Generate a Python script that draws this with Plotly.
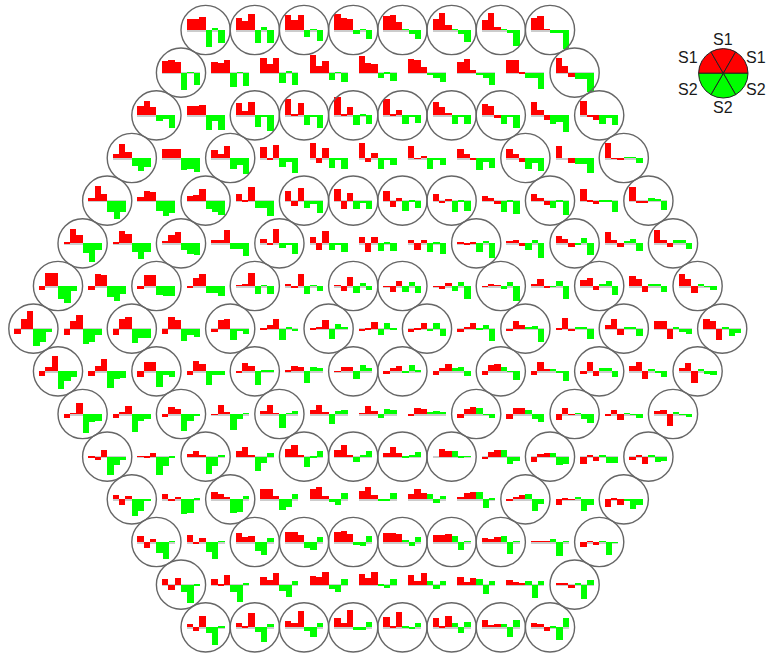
import plotly.graph_objects as go

# Each list: one hexagon row. Each cell: S1,S1,S1,S2,S2,S2 (height, up = positive)
row_00 = [[11,11,13,-17,2,-13],[12,9,16,-13,3,-13],[15,10,15,-7,1,-11],[16,12,11,-4,0.5,-9],[14,15,8,0.5,-4,-9],[11,17,5,0.3,-4,-12],[10,17,3,0.3,-3,-16],[12,14,0.5,-3,-3,-19]]
row_01 = [[12,13,11,-17,0.5,-12],[11,10,13,-14,0.5,-13],[15,9,15,-10,0.7,-12],[18,7,12,-7,0.5,-9],[17,10,9,-5,-1,-8],[14,13,6,-2,-5,-9],[11,14,3,-2.5,-5,-12],[13,13,-1,-5,-5,-16],[15,7,-4.5,-6,-6,-19]]
row_02 = [[9,14,8,-6,-4,-13],[9.3,9.3,10,-14.7,-5.7,-14.7],[12,4,13,-12,-2,-16],[16,0.5,12,-10,-1,-13],[18,1.5,8,-10,0.5,-9],[16,1,5,-9,-1,-8],[13,8,2.5,-9,-1.5,-9],[11,9,-2.5,-9,-2,-13],[13,5,-5,-9,-7,-17],[14,-1,-5,-9,-3,-10]]
row_03 = [[4,14,6,-8,-13,-9],[9,9,9,-12,-11,-14],[8,4,12,-11,-7,-16],[11,-2,13,-9,-4,-15],[15,-5,10,-10,-2,-11],[15,-4,5,-11,-2,-7],[12,-1,2,-11,-2,-7],[9,4,-2,-12,-4,-10],[9,4,-4,-11,-5,-13],[12,0,-5,-6,-6,-15],[15,-1,-2,1,1,-5]]
row_04 = [[3,15,7,-11,-18,-11],[4,10,9,-10,-15,-12],[5,6,12,-8,-11,-14],[7,-1,14,-7,-7,-15],[10,-5,13,-7,-3,-12],[12,-8,8,-8,-2,-8],[10,-6,3,-10,-1,-7],[7,-2,1,-11,-1,-10],[5,3,-3,-11,-1,-13],[7,3,-4,-7,-1,-14],[12,-1,-3,-1,-1,-11],[14,-2,-2,3,1,-9]]
row_05 = [[0.7,14,8,-10,-19,-7],[1,12,9,-9,-16,-9],[2,8,11,-7,-11,-12],[3.5,3.5,13,-6,-6,-13],[4,-2,14,-5,-1.5,-11],[6,-7,12,-7,-1,-9],[6,-9,6,-8,0.7,-8],[3,-7,3,-9,1,-11],[1.5,-1.5,0.5,-9,2.5,-15],[2,3,-3,-7,3.5,-15],[7,4,-4,-1.5,5,-12],[11,3,-4,2,4,-8],[13,3,-4,3,3,-6]]
row_06 = [[-4,13,13,-13,-17,-5],[-4,12,11,-11,-15,-8],[-3,11,11,-9,-10,-10],[-2,8,12,-7,-7,-10],[1,2,13,-8,1,-8],[2,-1.5,12,-8,0.5,-5],[1,-5,9,-7,3,-4],[-0.3,-6,5,-6,4,-7],[-0.5,-3,3,-5,4,-13],[-0.5,2,1,-3,4,-15],[2,7,-2,-0.5,5,-13],[6,8,-4,2,5,-9],[10,7,-6,2,2,-6],[12,7,-7,2,-0.5,-4]]
row_07 = [[-5,10,18,-17,-13,-3],[-6,8,14,-15,-13,-6],[-6,10,12,-14,-9,-9],[-5,12,9,-12,-6,-8],[-3,9,10,-11,-2,-5],[-1,4,10,-11,2,-2],[-1,0.7,9,-10,5,2],[-2,-0.5,7,-6,6,-0.5],[-3,-0.5,6,-2,6,-7],[-3,2,6,-0.5,4,-12],[-2,8,4,2,3,-13],[-1,11,-2,2,2,-10],[4,10,-6,2,1,-7],[8,8,-10,1,-3,-5],[10,8,-11,1,-7,-4]]
row_08 = [[-5,4,15,-18,-10,-6],[-5,5,12,-17,-8,-7],[-6,9,9,-16,-4,-6],[-4,10,7,-14,-4,-4],[-1,8,5,-14,0.5,0.5],[1.5,5,4,-12,4,3],[-0.5,4,4,-8,6,3],[-2.5,3,5,-2,6,0.5],[-4,3,7,3,4,-5],[-4,6,7,4,-0.5,-9],[-4,9,2,2,-1,-10],[-3,9,-5,3,3,-6],[5,9,-8,2,-1,-6],[3,8,-12,2,-3,-4]]
row_09 = [[-4,0.7,11,-19,-8,-7],[-4,2,8,-18,-7,-5],[-3,7,5,-17,-7,-2],[-0.3,9,2,-16,-5,1],[3,9,1,-14,0.3,3],[4,9,2,-10,3,4],[1,8,3,-4,5,4],[-2,6,5,2,3,2],[-4,5,7,6,-0.5,-4],[-5,6,6,4,-5,-8],[-6,6,-0.5,1,-5,-9],[-2,4,-6,1,-1,-4],[3,4,-12,2,-1,-3]]
row_10 = [[-0.7,-3,7,-18,-8,-3],[0.5,-0.5,4,-18,-9,-0.7],[3,6,2,-17,-9,2],[6,10,0.7,-14,-6,4],[8,12,2,-10,-1.5,6],[7,12,2,-5,2,6],[4,10,4,-0.7,2,5],[0,8,6,6,-1.5,0.5],[-2,5,7,7,-7,-4],[-5,3,4,4,-8,-7],[-7,1,-4,1,-6,-6],[-3,1,-7,1,-5,-4]]
row_11 = [[4,-6,3,-17,-12,-2],[5,-2,2,-15,-14,1],[7,5,2,-14,-13,3],[10,10,3,-11,-8,5],[10,12,3,-3,-6,6],[8,12,4,-1,-1,6],[5,10,6,5,-4,3],[2,6,7,7,-9,0.5],[-1,2,4,5,-12,-5],[-6,0.5,-0.5,2,-12,-6],[-8,0.5,-6,-1,-10,-6]]
row_12 = [[6,-6,3,-11,-17,0.3],[7,-2,4,-10,-17,1],[9,5,6,-9,-13,4],[10,10,7,-6,-8,5],[10,11,8,-3,-4,6],[9,9,8,2,-4,5],[7,7,8,6,-8,1],[4,3,5,6,-12,0.3],[0.5,1,1,3,-14,0.5],[-5,0.3,-3,1,-13,-0.7]]
row_13 = [[6,-5,7,-7,-18,-0.5],[6,-1,10,-7,-17,2],[8,5,12,-6,-12,4],[9,8,13,-4,-7,6],[11,7,13,-1,-3,6],[10,4,12,4,-4,4],[8,3,7,6,-9,4],[5,3,1,4,-13,4],[0.7,2,-3,2,-14,5]]
row_14 = [[3,-4,11,-6,-18,1],[4,0.5,14,-5,-15,3],[6,4,16,-4,-10,4],[9,4,17,-3,-3,5],[10,1,15,1,-2,4],[9,0.5,11,4,-6,5],[7,2,3,3,-10,7],[4,3,-4,1,-13,9]]

rows = [row_00,row_01,row_02,row_03,row_04,row_05,row_06,row_07,row_08,row_09,row_10,row_11,row_12,row_13,row_14]

# Which cells of each row wear a ring
ring_rows = [
    [0,1,2,3,4,5,6,7],
    [0,8],
    [0,2,3,4,5,6,7,9],
    [0,2,8,10],
    [0,2,4,5,6,7,9,11],
    [0,2,4,8,10,12],
    [0,2,4,6,7,9,11,13],
    [0,2,4,6,8,10,12,14],
    [0,2,4,6,7,9,11,13],
    [0,2,4,8,10,12],
    [0,2,4,5,6,7,9,11],
    [0,2,8,10],
    [0,2,3,4,5,6,7,9],
    [0,8],
    [0,1,2,3,4,5,6,7],
]

key_labels = ["S1","S1","S1","S2","S2","S2"]
key_shares = [1,1,1,1,1,1]

W, H = 766, 654
CX, Y0, DX, DY = 377.8, 30.0, 49.2, 42.667
BAR = 6.33
RED, GREEN = "#ff0000", "#00ff00"

cx, cy = [], []
bx1, by1, bb1, bx2, by2, bb2 = [], [], [], [], [], []
rx, ry = [], []
for r, row in enumerate(rows):
    y = Y0 + r * DY
    n = len(row)
    for c, vals in enumerate(row):
        x = CX + (c - (n - 1) / 2) * DX
        cx.append(x); cy.append(y)
        if c in ring_rows[r]:
            rx.append(x); ry.append(y)
        for i, v in enumerate(vals):
            px = x + (i - 2.5) * BAR
            if i < 3:
                bx1.append(px); by1.append(-v); bb1.append(y)
            else:
                bx2.append(px); by2.append(-v); bb2.append(y)

fig = go.Figure()
fig.add_trace(go.Bar(x=cx, y=[1.3]*len(cx), base=cy, width=6*BAR, marker=dict(color="#cccccc", line=dict(width=0)), showlegend=False, hoverinfo="skip"))
fig.add_trace(go.Bar(x=bx1, y=by1, base=bb1, width=BAR, name="S1", marker=dict(color=RED, line=dict(width=0)), showlegend=False))
fig.add_trace(go.Bar(x=bx2, y=by2, base=bb2, width=BAR, name="S2", marker=dict(color=GREEN, line=dict(width=0)), showlegend=False))
fig.add_trace(go.Scatter(x=rx, y=ry, mode="markers", cliponaxis=False, showlegend=False, hoverinfo="skip",
                         marker=dict(symbol="circle-open", size=49.2, color="#666666", line=dict(width=1.4, color="#666666"))))

kx, ky, kr = 723.3, 73.3, 24.7
fig.add_trace(go.Pie(values=key_shares, labels=[f"{l}-{i}" for i, l in enumerate(key_labels)], sort=False, direction="clockwise", rotation=270,
                     textinfo="none", hoverinfo="skip", showlegend=False,
                     marker=dict(colors=[RED]*3+[GREEN]*3, line=dict(color="#222222", width=1)),
                     domain=dict(x=[(kx-kr)/W, (kx+kr)/W], y=[1-(ky+kr)/H, 1-(ky-kr)/H])))

label_pos = [(687.5,57.7),(723,39.5),(755.5,57.7),(755.5,89.3),(723,107.3),(688,89.3)]
for t, (ax, ay) in zip(key_labels, label_pos):
    fig.add_annotation(x=ax, y=ay, xref="x", yref="y", text=t, showarrow=False, xanchor="center", yanchor="middle",
                       font=dict(family="Liberation Sans, Arial, sans-serif", size=16, color="#1a1a1a"))

fig.update_layout(width=W, height=H, margin=dict(l=0,r=0,t=0,b=0), barmode="overlay", bargap=0,
                  paper_bgcolor="white", plot_bgcolor="white", showlegend=False,
                  xaxis=dict(range=[0,W], visible=False, fixedrange=True),
                  yaxis=dict(range=[H,0], visible=False, fixedrange=True))
fig.write_html("out.html", post_script="document.body.style.margin='0';document.body.style.overflow='hidden';", config=dict(displayModeBar=False))
